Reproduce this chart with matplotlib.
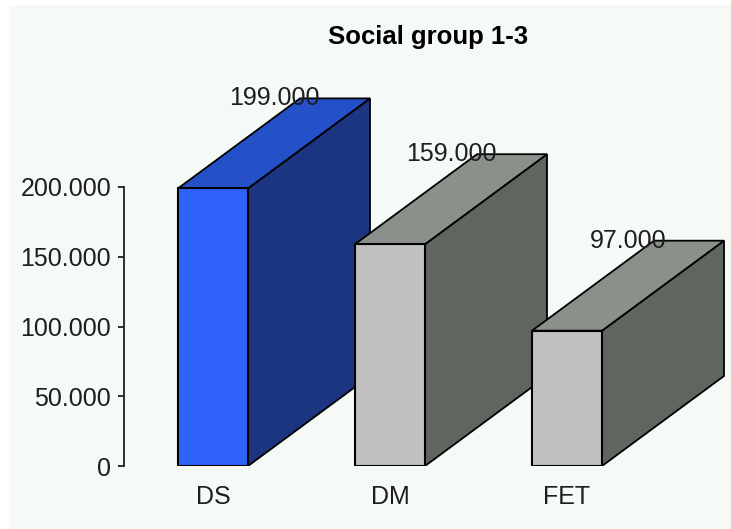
import matplotlib
matplotlib.use("Agg")
import matplotlib.pyplot as plt
from matplotlib.patches import Polygon, Rectangle

categories = ["DS", "DM", "FET"]
values = [199, 159, 97]
value_labels = ["199.000", "159.000", "97.000"]
yticks = [0, 50, 100, 150, 200]
ytick_labels = ["0", "50.000", "100.000", "150.000", "200.000"]
title = "Social group 1-3"

# face colours: front, top, side
face_colors = [
    ("#2f62fa", "#2450c8", "#1b3580"),
    ("#c0c0c0", "#8a918a", "#5f665f"),
    ("#c0c0c0", "#8a918a", "#5f665f"),
]

W, H = 731, 529
fig = plt.figure(figsize=(W / 100, H / 100), dpi=100)
fig.patch.set_facecolor("white")
panel = Rectangle((9 / W, 0), 1 - 9 / W, 1 - 5 / H,
                  transform=fig.transFigure, facecolor="#f5faf7",
                  edgecolor="none", zorder=-10)
fig.patches.append(panel)

plt.rcParams["font.family"] = ["Liberation Sans", "DejaVu Sans"]

# axes geometry in pixels
x0_px, y0_px = 123.5, 466.0
px_per_unit_y = (466.0 - 187.0) / 200.0
px_per_cat = 177.0
first_center_px = 213.0

ax = fig.add_axes([x0_px / W, (H - y0_px) / H, 1 - x0_px / W, y0_px / H])
ax.set_zorder(1)
ax.set_facecolor("none")
ymax = y0_px / px_per_unit_y
xmin = -(first_center_px - x0_px) / px_per_cat
xmax = xmin + (W - x0_px) / px_per_cat
ax.set_xlim(xmin, xmax)
ax.set_ylim(0, ymax)

bar_w = 70 / px_per_cat
dx = 122 / px_per_cat
dy = 90 / px_per_unit_y

for i, (v, (cf, ct, cs)) in enumerate(zip(values, face_colors)):
    l, r = i - bar_w / 2, i + bar_w / 2
    side = Polygon([(r, 0), (r + dx, dy), (r + dx, v + dy), (r, v)],
                   closed=True, facecolor=cs, edgecolor="black", lw=1.3,
                   joinstyle="miter", zorder=2 + i * 3)
    top = Polygon([(l, v), (r, v), (r + dx, v + dy), (l + dx, v + dy)],
                  closed=True, facecolor=ct, edgecolor="black", lw=1.3,
                  joinstyle="miter", zorder=2 + i * 3)
    front = Rectangle((l, 0), bar_w, v, facecolor=cf, edgecolor="black",
                      lw=1.5, zorder=3 + i * 3)
    ax.add_patch(side)
    ax.add_patch(top)
    ax.add_patch(front)
    ax.text(i + dx / 2, v + dy, value_labels[i], ha="center", va="center",
            fontsize=18, color="#1e1e1e", zorder=20)

ax.set_yticks(yticks)
ax.set_yticklabels(ytick_labels, fontsize=18, color="#1e1e1e")
ax.set_xticks(range(len(categories)))
ax.set_xticklabels(categories, fontsize=18, color="#1e1e1e")
ax.tick_params(axis="y", length=4, width=1.3, pad=5, color="#1e1e1e")
ax.tick_params(axis="x", length=0, pad=14)

for s in ["top", "right", "bottom"]:
    ax.spines[s].set_visible(False)
ax.spines["left"].set_bounds(0, 200)
ax.spines["left"].set_linewidth(1.3)
ax.spines["left"].set_color("#1e1e1e")

fig.text(428 / W, 1 - 37 / H, title, ha="center", va="center",
         fontsize=18.5, fontweight="bold", color="#000000")

fig.savefig("out.png", dpi=100, facecolor=fig.get_facecolor())
